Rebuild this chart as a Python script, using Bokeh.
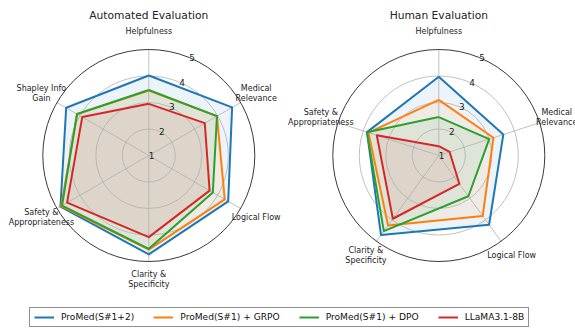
import numpy as np
from bokeh.plotting import figure
from bokeh.models import Range1d, Legend, LegendItem
from bokeh.core.properties import value
from bokeh.embed import file_html
from bokeh.resources import INLINE

# ---------------- data ----------------
series_names = ["ProMed(S#1+2)", "ProMed(S#1) + GRPO", "ProMed(S#1) + DPO", "LLaMA3.1-8B"]
series_colors = ["#1f77b4", "#ff7f0e", "#2ca02c", "#d62728"]

auto_title = "Automated Evaluation"
auto_categories = ["Helpfulness", "Medical\nRelevance", "Logical Flow",
                   "Clarity &\nSpecificity", "Safety &\nAppropriateness", "Shapley Info\nGain"]
auto_promed_s12 = [4.02, 4.63, 4.46, 4.73, 4.85, 4.60]
auto_promed_grpo = [3.45, 3.97, 4.31, 4.55, 4.82, 4.12]
auto_promed_dpo = [3.47, 3.97, 3.79, 4.52, 4.78, 4.13]
auto_llama = [2.95, 3.44, 3.65, 4.08, 4.56, 3.90]

human_title = "Human Evaluation"
human_categories = ["Helpfulness", "Medical\nRelevance", "Logical Flow",
                    "Clarity &\nSpecificity", "Safety &\nAppropriateness"]
human_promed_s12 = [3.97, 3.56, 4.23, 4.71, 3.85]
human_promed_grpo = [3.10, 3.17, 3.82, 4.26, 3.79]
human_promed_dpo = [2.45, 3.00, 2.90, 4.53, 3.85]
human_llama = [1.35, 1.43, 2.32, 3.95, 3.46]

r_ticks = [1, 2, 3, 4, 5]
r_grid = [2, 3, 4]
r_min, r_max = 1, 5

# ---------------- layout ----------------
W, H = 575, 329
R = 106.0          # outer radius in px
LABEL_R = 124.0    # category label radius
FONT = value("DejaVu Sans")

p = figure(width=W, height=H, output_backend="svg", toolbar_location=None, tools="",
           x_range=Range1d(0, W), y_range=Range1d(H, 0),
           x_axis_location=None, y_axis_location=None, min_border=0,
           min_border_left=0, min_border_right=0, min_border_top=0, min_border_bottom=0)
p.outline_line_color = None
p.xgrid.visible = False
p.ygrid.visible = False
p.background_fill_color = "white"
p.border_fill_color = "white"


def rad(v):
    return (np.asarray(v, dtype=float) - r_min) / (r_max - r_min) * R


def radar(cx, cy, title, cats, data):
    n = len(cats)
    ang = np.pi / 2 - np.arange(n) * 2 * np.pi / n
    # fills
    for vals, c in zip(data, series_colors):
        r = rad(vals)
        p.patch(cx + r * np.cos(ang), cy - r * np.sin(ang),
                fill_color=c, fill_alpha=0.08, line_color=None)
    # grid circles
    p.circle(x=[cx] * len(r_grid), y=[cy] * len(r_grid), radius=rad(r_grid),
             fill_color=None, line_color="#b0b0b0", line_width=0.8)
    # spokes
    p.segment(x0=[cx] * n, y0=[cy] * n, x1=cx + R * np.cos(ang), y1=cy - R * np.sin(ang),
              line_color="#b0b0b0", line_width=0.8)
    # outer spine
    p.circle(x=[cx], y=[cy], radius=[rad(r_max)], fill_color=None,
             line_color="#222222", line_width=0.9)
    # series lines
    rends = []
    for vals, c in zip(data, series_colors):
        r = rad(list(vals) + [vals[0]])
        a = np.append(ang, ang[0])
        rends.append(p.line(cx + r * np.cos(a), cy - r * np.sin(a),
                            line_color=c, line_width=2, line_join="round"))
    # radial tick labels
    ta = np.deg2rad(67.5)
    rt = rad(r_ticks)
    p.text(x=cx + rt * np.cos(ta), y=cy - rt * np.sin(ta), text=[str(t) for t in r_ticks],
           text_font=FONT, text_font_size=value("8.9px"), text_color="#222222",
           text_align="left", text_baseline="alphabetic")
    # category labels
    p.text(x=cx + LABEL_R * np.cos(ang), y=cy - LABEL_R * np.sin(ang), text=cats,
           text_font=FONT, text_font_size=value("8px"), text_color="#222222",
           text_align="center", text_baseline="middle", text_line_height=1.1)
    # title
    p.text(x=[cx], y=[14.5], text=[title], text_font=FONT, text_font_size=value("10.7px"),
           text_color="#222222", text_align="center", text_baseline="middle")
    return rends


auto_data = [auto_promed_s12, auto_promed_grpo, auto_promed_dpo, auto_llama]
human_data = [human_promed_s12, human_promed_grpo, human_promed_dpo, human_llama]

rends = radar(148.3, 155.0, auto_title, auto_categories, auto_data)
radar(438.3, 155.0, human_title, human_categories, human_data)

legend = Legend(items=[LegendItem(label=nm, renderers=[r]) for nm, r in zip(series_names, rends)],
                orientation="horizontal", location=(29, 2),
                padding=4, spacing=19, label_standoff=7,
                glyph_width=20, glyph_height=10, label_height=10,
                label_text_font="DejaVu Sans", label_text_font_size="9.1px",
                label_text_color="#111111",
                border_line_color="#222222", border_line_width=1,
                background_fill_color="white", background_fill_alpha=1.0)
p.add_layout(legend)

open("out.html", "w").write(file_html(p, INLINE))
